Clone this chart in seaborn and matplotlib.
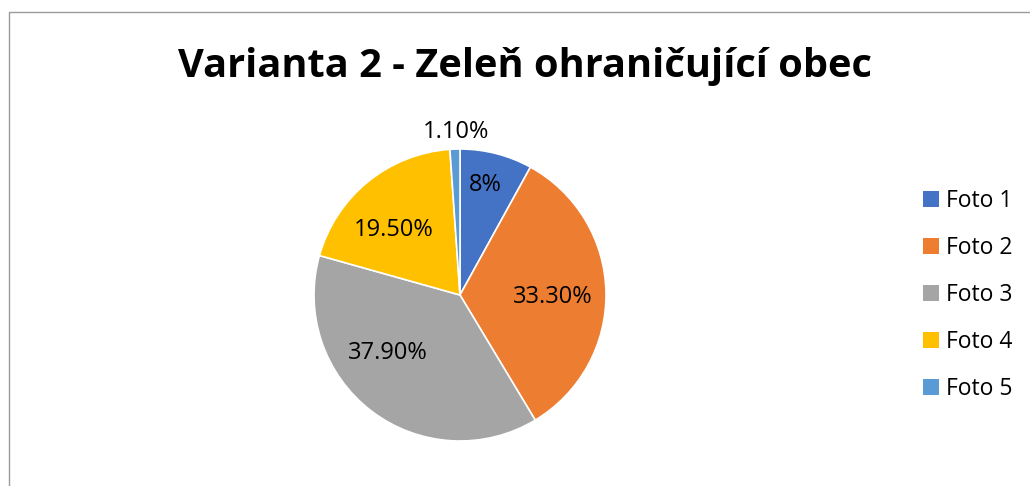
import numpy as np
import matplotlib.pyplot as plt
import seaborn as sns
from matplotlib.patches import Rectangle, Patch

# data
categories = ['Foto 1', 'Foto 2', 'Foto 3', 'Foto 4', 'Foto 5']
values = [8.0, 33.3, 37.9, 19.5, 1.1]
value_labels = ['8%', '33.30%', '37.90%', '19.50%', '1.10%']
colors = ['#4472C4', '#ED7D31', '#A5A5A5', '#FFC000', '#5B9BD5']
# label placement (excel "best fit"): radius and angle nudge per slice
label_dist = [0.77, 0.637, 0.637, 0.634, 1.12]
label_nudge = [1.6, -2.4, -13.7, 6.6, -0.6]

sns.set_theme(style='white')
plt.rcParams['font.family'] = ['Open Sans', 'DejaVu Sans']

fig = plt.figure(figsize=(10.3, 4.86), dpi=100)
W, H = 1030, 486

# chart border (runs off the right/bottom edge like the screenshot)
fig.patches.append(Rectangle((9 / W, -0.1), 1.2, 1 - 12 / H + 0.1, transform=fig.transFigure,
                             fill=False, edgecolor='#9a9a9a', linewidth=1.0))

# pie axes: centre (460, 295), radius 146 px
cx, cy, r = 460, 295, 146
ax = fig.add_axes([(cx - r) / W, (H - cy - r) / H, 2 * r / W, 2 * r / H])
wedges, _ = ax.pie(values, colors=colors, startangle=90, counterclock=False,
                   radius=1.0, wedgeprops=dict(edgecolor='white', linewidth=1.2))
ax.set_xlim(-1, 1)
ax.set_ylim(-1, 1)
ax.set_aspect('equal')
ax.axis('off')

for w, lab, d, nd in zip(wedges, value_labels, label_dist, label_nudge):
    ang = np.deg2rad((w.theta1 + w.theta2) / 2 + nd)
    ax.text(d * np.cos(ang), d * np.sin(ang), lab, ha='center', va='center',
            fontsize=17, color='#000000', clip_on=False)

fig.text(525 / W, 1 - 66 / H, 'Varianta 2 - Zeleň ohraničující obec', ha='center', va='center',
         fontsize=28.6, fontweight='bold', color='#000000')

handles = [Patch(facecolor=c, edgecolor='none') for c in colors]
leg = fig.legend(handles, categories, loc='center left', bbox_to_anchor=(923 / W, 1 - 295 / H),
                 frameon=False, fontsize=16.5, labelspacing=1.0, handlelength=0.7, handleheight=0.7,
                 handletextpad=0.3, borderaxespad=0, borderpad=0)
for t in leg.get_texts():
    t.set_color('#000000')

fig.savefig('out.png', dpi=100)
